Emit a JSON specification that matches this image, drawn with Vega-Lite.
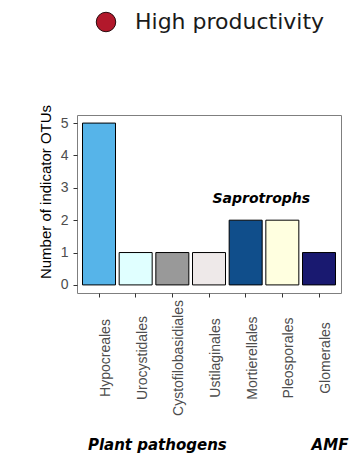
{
  "$schema": "https://vega.github.io/schema/vega-lite/v6.json",
  "autosize": "none",
  "width": 264,
  "height": 178,
  "padding": {"left": 77, "top": 115, "right": 9, "bottom": 162},
  "background": "white",
  "config": {
    "view": {"stroke": "#7f7f7f", "strokeWidth": 1},
    "font": "Liberation Sans"
  },
  "resolve": {"axis": {"x": "independent", "y": "independent"}},
  "layer": [
    {
      "data": {"values": [
        {"order": "Hypocreales", "otus": 5},
        {"order": "Urocystidales", "otus": 1},
        {"order": "Cystofilobasidiales", "otus": 1},
        {"order": "Ustilaginales", "otus": 1},
        {"order": "Mortierellales", "otus": 2},
        {"order": "Pleosporales", "otus": 2},
        {"order": "Glomerales", "otus": 1}
      ]},
      "mark": {"type": "bar", "stroke": "black", "strokeWidth": 1},
      "encoding": {
        "x": {
          "field": "order", "type": "nominal",
          "scale": {"domain": ["Hypocreales","Urocystidales","Cystofilobasidiales","Ustilaginales","Mortierellales","Pleosporales","Glomerales"], "paddingInner": 0.1, "paddingOuter": 0.15},
          "axis": {
            "title": null, "labelAngle": 270, "labelAlign": "center", "labelBaseline": "top",
            "labelPadding": 60.5, "labelFontSize": 14, "labelColor": "#4d4d4d",
            "labelFont": "Liberation Sans", "tickSize": 4, "tickColor": "#333333",
            "domain": false, "grid": false, "labelOverlap": false, "labelFlush": false, "labelBound": false
          }
        },
        "y": {
          "field": "otus", "type": "quantitative",
          "scale": {"domain": [-0.25, 5.25], "nice": false, "zero": false},
          "axis": {
            "values": [0,1,2,3,4,5], "tickCount": 6, "title": "Number of indicator OTUs",
            "titleFont": "Liberation Sans", "titleFontSize": 15, "titleFontWeight": "normal",
            "titleColor": "#000000", "titlePadding": 7, "titleY": 76.5,
            "labelFont": "Liberation Sans", "labelFontSize": 14, "labelColor": "#4d4d4d", "labelPadding": 5, "labelOverlap": false,
            "tickSize": 4, "tickColor": "#333333", "domain": false, "grid": false
          }
        },
        "y2": {"datum": 0},
        "fill": {
          "field": "order", "type": "nominal", "legend": null,
          "scale": {"domain": ["Hypocreales","Urocystidales","Cystofilobasidiales","Ustilaginales","Mortierellales","Pleosporales","Glomerales"],
                    "range": ["#56B4E9","#E0FFFF","#999999","#EEE9E9","#104E8B","#FFFFE0","#191970"]}
        }
      }
    },
    {
      "data": {"values": [{"label": "Saprotrophs", "order": "Pleosporales", "pos": 2.53}]},
      "mark": {"type": "text", "font": "DejaVu Sans", "fontSize": 14, "fontWeight": "bold", "fontStyle": "italic", "align": "center", "baseline": "alphabetic", "dx": -21, "color": "#000000"},
      "encoding": {
        "x": {"field": "order", "type": "nominal", "axis": null},
        "y": {"field": "pos", "type": "quantitative", "axis": null},
        "text": {"field": "label"}
      }
    },
    {
      "data": {"values": [{"label": "Plant pathogens", "order": "Cystofilobasidiales", "pos": -5.09}]},
      "mark": {"type": "text", "font": "DejaVu Sans", "fontSize": 15, "fontWeight": "bold", "fontStyle": "italic", "align": "center", "baseline": "alphabetic", "dx": -15, "color": "#000000"},
      "encoding": {
        "x": {"field": "order", "type": "nominal", "axis": null},
        "y": {"field": "pos", "type": "quantitative", "axis": null},
        "text": {"field": "label"}
      }
    },
    {
      "data": {"values": [{"label": "AMF", "order": "Glomerales", "pos": -5.09}]},
      "mark": {"type": "text", "font": "DejaVu Sans", "fontSize": 15, "fontWeight": "bold", "fontStyle": "italic", "align": "center", "baseline": "alphabetic", "dx": 11, "color": "#000000"},
      "encoding": {
        "x": {"field": "order", "type": "nominal", "axis": null},
        "y": {"field": "pos", "type": "quantitative", "axis": null},
        "text": {"field": "label"}
      }
    },
    {
      "data": {"values": [{"productivity": "High productivity"}]},
      "mark": {"type": "point", "filled": true, "opacity": 0, "shape": "circle"},
      "encoding": {
        "color": {
          "field": "productivity", "type": "nominal",
          "scale": {"range": ["#B2182B"]},
          "legend": {
            "title": null, "orient": "none", "legendX": 18, "legendY": -104,
            "symbolType": "circle", "symbolSize": 380, "symbolOpacity": 1,
            "symbolFillColor": "#B2182B", "symbolStrokeColor": "#2a0a0e", "symbolStrokeWidth": 1,
            "labelFont": "DejaVu Sans", "labelFontSize": 22, "labelColor": "#1a1a1a",
            "labelOffset": 18, "labelLimit": 400, "padding": 0
          }
        }
      }
    }
  ]
}
